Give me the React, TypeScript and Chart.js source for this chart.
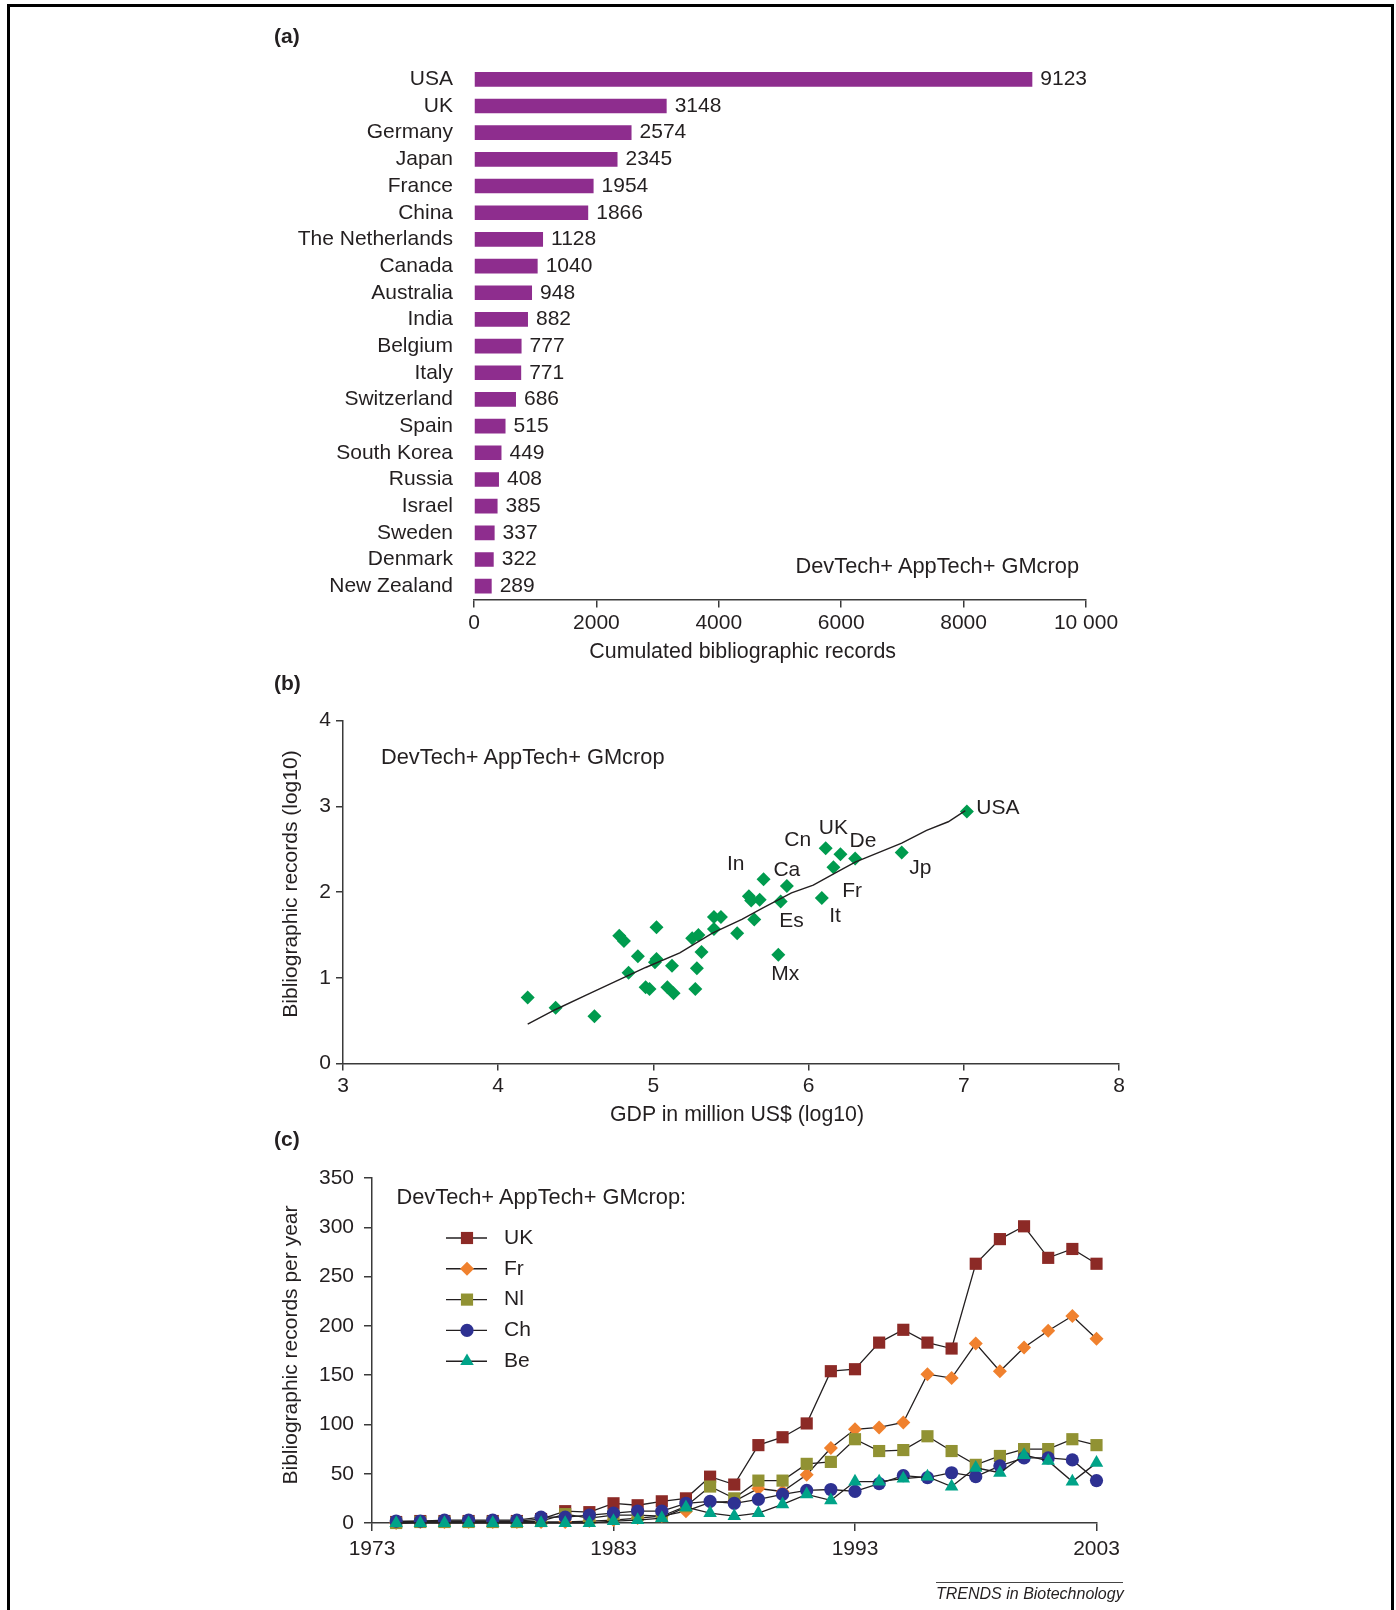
import React, { useEffect, useRef } from 'react';
import { Chart, registerables } from 'chart.js';

Chart.register(...registerables);

const W = 1396;
const H = 1610;
const FONT = '"Liberation Sans", Arial, Helvetica, sans-serif';
const INK = '#231f20';
const AXIS = '#3a3a3a';
const FS = 21;

Chart.defaults.font.family = FONT;
Chart.defaults.font.size = FS;
Chart.defaults.color = INK;

// ---------- (a) cumulated records per country ----------
const countries = [
  'USA', 'UK', 'Germany', 'Japan', 'France', 'China', 'The Netherlands', 'Canada',
  'Australia', 'India', 'Belgium', 'Italy', 'Switzerland', 'Spain', 'South Korea',
  'Russia', 'Israel', 'Sweden', 'Denmark', 'New Zealand',
];
const records = [9123, 3148, 2574, 2345, 1954, 1866, 1128, 1040, 948, 882, 777, 771, 686, 515, 449, 408, 385, 337, 322, 289];
const recordTicks = [0, 2000, 4000, 6000, 8000, 10000];
const recordTickLabels = ['0', '2000', '4000', '6000', '8000', '10 000'];

// ---------- (b) GDP vs records (log10) ----------
const gdpLog = [
  7.02, 6.60, 6.11, 6.205, 6.30, 6.16, 6.085, 5.71, 5.86, 5.615, 5.63, 5.685, 5.82,
  5.65, 5.805, 5.39, 5.435, 5.39, 5.54, 5.25, 5.29, 5.31, 5.28, 5.27, 5.02, 5.02,
  5.01, 5.12, 4.78, 4.81, 4.90, 4.84, 4.95, 4.975, 5.09, 5.13, 4.19, 4.37, 4.62,
];
const recordsLog = [
  2.94, 2.46, 2.51, 2.44, 2.39, 2.29, 1.93, 2.15, 2.07, 1.95, 1.90, 1.91, 1.89,
  1.68, 1.27, 1.71, 1.71, 1.57, 1.52, 1.46, 1.50, 1.30, 1.11, 0.87, 1.59, 1.22,
  1.18, 1.14, 1.49, 1.43, 1.25, 1.06, 0.89, 0.87, 0.89, 0.82, 0.77, 0.65, 0.55,
];
const trendGdp = [4.19, 4.37, 4.57, 4.76, 4.95, 5.17, 5.38, 5.57, 5.70, 5.89, 6.03, 6.17, 6.30, 6.45, 6.60, 6.76, 6.90, 7.01];
const trendRecords = [0.46, 0.63, 0.80, 0.96, 1.12, 1.29, 1.52, 1.68, 1.81, 1.99, 2.08, 2.22, 2.35, 2.46, 2.57, 2.72, 2.82, 2.95];
const noteNames = ['USA', 'UK', 'Cn', 'De', 'In', 'Ca', 'Jp', 'Fr', 'Es', 'It', 'Mx'];
const noteGdp = [7.22, 6.16, 5.93, 6.35, 5.53, 5.86, 6.72, 6.28, 5.89, 6.17, 5.85];
const noteRecords = [2.98, 2.75, 2.60, 2.59, 2.32, 2.26, 2.28, 2.01, 1.665, 1.72, 1.04];

// ---------- (c) records per year ----------
const years = [
  1974, 1975, 1976, 1977, 1978, 1979, 1980, 1981, 1982, 1983, 1984, 1985, 1986, 1987, 1988,
  1989, 1990, 1991, 1992, 1993, 1994, 1995, 1996, 1997, 1998, 1999, 2000, 2001, 2002, 2003,
];
const ukRecords = [1, 2, 2, 2, 2, 2, 4, 12, 11, 20, 18, 22, 25, 47, 39, 79, 87, 101, 154, 156, 183, 196, 183, 177, 263, 288, 301, 269, 278, 263];
const frRecords = [0, 1, 1, 1, 1, 1, 1, 1, 2, 3, 5, 7, 12, 21, 22, 35, 32, 49, 76, 95, 97, 102, 151, 147, 182, 154, 178, 195, 210, 187];
const nlRecords = [0, 1, 1, 1, 1, 1, 2, 9, 5, 8, 8, 7, 17, 37, 25, 43, 43, 60, 62, 85, 73, 74, 88, 73, 59, 68, 75, 75, 85, 79];
const chRecords = [2, 2, 3, 3, 3, 3, 6, 6, 8, 10, 12, 12, 20, 22, 20, 24, 29, 33, 34, 32, 40, 48, 46, 51, 47, 58, 66, 66, 64, 43];
const beRecords = [0, 0, 0, 0, 0, 0, 0, 0, 0, 2, 3, 5, 16, 10, 7, 10, 19, 29, 23, 42, 42, 45, 47, 37, 56, 51, 69, 63, 42, 61];
const seriesNames = ['UK', 'Fr', 'Nl', 'Ch', 'Be'];
const seriesValues = [ukRecords, frRecords, nlRecords, chRecords, beRecords];
const yearTicks = [1973, 1983, 1993, 2003];

const seriesLook = [
  { style: 'rect', r: 8.6, color: '#8c2a26' },
  { style: 'rectRot', r: 7, color: '#f0812e' },
  { style: 'rect', r: 8.6, color: '#919233' },
  { style: 'circle', r: 6.6, color: '#2e3192' },
  { style: 'triangle', r: 7.8, color: '#00a388' },
];

const common: any = {
  responsive: false,
  animation: false,
  devicePixelRatio: 1,
  events: [],
  plugins: { legend: { display: false }, tooltip: { enabled: false } },
};

const axisGrid = (tl: number) => ({
  display: true,
  drawOnChartArea: false,
  drawTicks: true,
  tickLength: tl,
  color: AXIS,
  lineWidth: 1.5,
});
const axisBorder = { display: true, color: AXIS, width: 1.5 };

function drawMarker(ctx: CanvasRenderingContext2D, style: string, x: number, y: number, r: number, color: string) {
  ctx.fillStyle = color;
  ctx.beginPath();
  if (style === 'rect') {
    const s = r * Math.SQRT1_2;
    ctx.rect(x - s, y - s, 2 * s, 2 * s);
  } else if (style === 'rectRot') {
    ctx.moveTo(x - r, y);
    ctx.lineTo(x, y - r);
    ctx.lineTo(x + r, y);
    ctx.lineTo(x, y + r);
    ctx.closePath();
  } else if (style === 'circle') {
    ctx.arc(x, y, r, 0, Math.PI * 2);
  } else {
    for (let k = 0; k < 3; k++) {
      const a = (k * 2 * Math.PI) / 3;
      const px = x + Math.sin(a) * r;
      const py = y - Math.cos(a) * r;
      if (k === 0) ctx.moveTo(px, py);
      else ctx.lineTo(px, py);
    }
    ctx.closePath();
  }
  ctx.fill();
}

function makeBarChart(canvas: HTMLCanvasElement) {
  const barValues = {
    id: 'barValues',
    afterDatasetsDraw(chart: any) {
      const ctx = chart.ctx;
      ctx.save();
      ctx.font = `${FS}px ${FONT}`;
      ctx.fillStyle = INK;
      ctx.textAlign = 'left';
      ctx.textBaseline = 'middle';
      chart.getDatasetMeta(0).data.forEach((bar: any, i: number) => {
        ctx.fillText(String(records[i]), bar.x + 8, bar.y);
      });
      ctx.restore();
    },
  };
  return new Chart(canvas, {
    type: 'bar',
    data: {
      labels: countries,
      datasets: [
        {
          data: records,
          backgroundColor: '#8e2d8e',
          barPercentage: 0.55,
          categoryPercentage: 1,
        },
      ],
    },
    options: {
      ...common,
      indexAxis: 'y',
      layout: { padding: { left: 114, right: 310, top: 66, bottom: H - 599.5 - 60 } },
      scales: {
        x: {
          type: 'linear',
          position: 'bottom',
          min: 0,
          max: 10000,
          afterFit: (s: any) => { s.height = 60; },
          afterBuildTicks: (s: any) => { s.ticks = recordTicks.map((v) => ({ value: v })); },
          ticks: {
            padding: 3,
            maxRotation: 0,
            autoSkip: false,
            callback: (v: any) => recordTickLabels[recordTicks.indexOf(Number(v))] ?? '',
          },
          grid: axisGrid(8),
          border: axisBorder,
        },
        y: {
          type: 'category',
          afterFit: (s: any) => { s.width = 360; },
          grid: { display: false, drawTicks: false, tickLength: 0 },
          border: { display: false },
          ticks: { padding: 21, autoSkip: false },
        },
      },
    } as any,
    plugins: [barValues],
  } as any);
}

function makeScatterChart(canvas: HTMLCanvasElement) {
  const notes = {
    id: 'notes',
    afterDatasetsDraw(chart: any) {
      const ctx = chart.ctx;
      const xs = chart.scales.x;
      const ys = chart.scales.y;
      ctx.save();
      ctx.font = `${FS}px ${FONT}`;
      ctx.fillStyle = INK;
      ctx.textAlign = 'center';
      ctx.textBaseline = 'middle';
      noteNames.forEach((name, i) => {
        ctx.fillText(name, xs.getPixelForValue(noteGdp[i]), ys.getPixelForValue(noteRecords[i]));
      });
      ctx.restore();
    },
  };
  return new Chart(canvas, {
    type: 'scatter',
    data: {
      datasets: [
        {
          type: 'scatter',
          data: gdpLog.map((x, i) => ({ x, y: recordsLog[i] })),
          pointStyle: 'rectRot',
          pointRadius: 7,
          backgroundColor: '#009b4e',
          borderWidth: 0,
          order: 2,
        },
        {
          type: 'line',
          data: trendGdp.map((x, i) => ({ x, y: trendRecords[i] })),
          borderColor: INK,
          borderWidth: 1.4,
          pointRadius: 0,
          fill: false,
          tension: 0,
          order: 1,
        },
      ],
    },
    options: {
      ...common,
      layout: { padding: { left: 143, right: 277, top: 720.6, bottom: H - 1063.5 - 60 } },
      scales: {
        x: {
          type: 'linear',
          min: 3,
          max: 8,
          afterFit: (s: any) => { s.height = 60; },
          ticks: { stepSize: 1, padding: 3, maxRotation: 0, callback: (v: any) => String(v) },
          grid: axisGrid(7),
          border: axisBorder,
        },
        y: {
          type: 'linear',
          min: 0,
          max: 4,
          afterFit: (s: any) => { s.width = 200; },
          ticks: { stepSize: 1, padding: 5, callback: (v: any) => String(v) },
          grid: axisGrid(7),
          border: axisBorder,
        },
      },
    } as any,
    plugins: [notes],
  } as any);
}

function makeLineChart(canvas: HTMLCanvasElement) {
  const legend = {
    id: 'manualLegend',
    afterDraw(chart: any) {
      const ctx = chart.ctx;
      ctx.save();
      seriesNames.forEach((name, i) => {
        const y = 1238 + i * 30.8;
        ctx.strokeStyle = INK;
        ctx.lineWidth = 1.4;
        ctx.beginPath();
        ctx.moveTo(446, y);
        ctx.lineTo(487, y);
        ctx.stroke();
        const look = seriesLook[i];
        drawMarker(ctx, look.style, 467, y, look.r, look.color);
        ctx.font = `${FS}px ${FONT}`;
        ctx.fillStyle = INK;
        ctx.textAlign = 'left';
        ctx.textBaseline = 'middle';
        ctx.fillText(name, 504, y);
      });
      ctx.restore();
    },
  };
  return new Chart(canvas, {
    type: 'line',
    data: {
      datasets: seriesNames.map((name, i) => ({
        label: name,
        data: years.map((x, k) => ({ x, y: seriesValues[i][k] })),
        borderColor: INK,
        borderWidth: 1.3,
        pointStyle: seriesLook[i].style,
        pointRadius: seriesLook[i].r,
        pointBackgroundColor: seriesLook[i].color,
        pointBorderWidth: 0,
        fill: false,
        tension: 0,
        clip: false,
        order: 5 - i,
      })),
    },
    options: {
      ...common,
      layout: { padding: { left: 172, right: W - 1096.5, top: 1178, bottom: H - 1523 - 60 } },
      scales: {
        x: {
          type: 'linear',
          min: 1973,
          max: 2003,
          afterFit: (s: any) => { s.height = 60; },
          afterBuildTicks: (s: any) => { s.ticks = yearTicks.map((v) => ({ value: v })); },
          ticks: { padding: 6, maxRotation: 0, autoSkip: false, callback: (v: any) => String(v) },
          grid: axisGrid(8),
          border: axisBorder,
        },
        y: {
          type: 'linear',
          min: 0,
          max: 350,
          afterFit: (s: any) => { s.width = 200; },
          ticks: { stepSize: 50, padding: 10, callback: (v: any) => String(v) },
          grid: axisGrid(8),
          border: axisBorder,
        },
      },
    } as any,
    plugins: [legend],
  } as any);
}

function ChartCanvas({ make }: { make: (c: HTMLCanvasElement) => Chart }) {
  const ref = useRef<HTMLCanvasElement>(null);
  useEffect(() => {
    if (!ref.current) return;
    const chart = make(ref.current);
    return () => chart.destroy();
  }, [make]);
  return (
    <canvas
      ref={ref}
      width={W}
      height={H}
      style={{ position: 'absolute', left: 0, top: 0, width: W, height: H, pointerEvents: 'none' }}
    />
  );
}

type TextProps = {
  text: string;
  x: number;
  y: number;
  anchor?: 'left' | 'center';
  rotate?: boolean;
  bold?: boolean;
  italic?: boolean;
  size?: number;
};

function Label({ text, x, y, anchor = 'left', rotate, bold, italic, size = FS }: TextProps) {
  const tx = anchor === 'center' ? '-50%' : '0';
  return (
    <div
      style={{
        position: 'absolute',
        left: x,
        top: y,
        transform: `translate(${tx}, -50%)${rotate ? ' rotate(-90deg)' : ''}`,
        fontFamily: FONT,
        fontSize: size,
        fontWeight: bold ? 'bold' : 'normal',
        fontStyle: italic ? 'italic' : 'normal',
        color: INK,
        whiteSpace: 'nowrap',
        lineHeight: 1,
      }}
    >
      {text}
    </div>
  );
}

const rule = (left: number, top: number, width: number, height: number, color = '#000') => (
  <div style={{ position: 'absolute', left, top, width, height, background: color }} />
);

export default function App() {
  return (
    <div style={{ position: 'absolute', left: 0, top: 0, width: W, height: H, background: '#fff', overflow: 'hidden' }}>
      {rule(7, 4, 1387, 3)}
      {rule(7, 4, 3, H - 4)}
      {rule(1391, 4, 3, H - 4)}

      <ChartCanvas make={makeBarChart} />
      <ChartCanvas make={makeScatterChart} />
      <ChartCanvas make={makeLineChart} />

      <Label text="(a)" x={274} y={35} bold />
      <Label text="DevTech+ AppTech+ GMcrop" x={795.5} y={566} size={21.8} />
      <Label text="Cumulated bibliographic records" x={742.7} y={652} anchor="center" size={21.4} />

      <Label text="(b)" x={274} y={682} bold />
      <Label text="DevTech+ AppTech+ GMcrop" x={381} y={757} size={21.8} />
      <Label text="GDP in million US$ (log10)" x={737} y={1115} anchor="center" size={21.3} />
      <Label text="Bibliographic records (log10)" x={288.5} y={884} anchor="center" rotate />

      <Label text="(c)" x={274} y={1137.5} bold />
      <Label text="DevTech+ AppTech+ GMcrop:" x={396.5} y={1197} size={21.8} />
      <Label text="Bibliographic records per year" x={288.5} y={1345} anchor="center" rotate />

      {rule(936, 1582, 187, 1, '#444')}
      <Label text="TRENDS in Biotechnology" x={936} y={1593.5} italic size={16} />
    </div>
  );
}
